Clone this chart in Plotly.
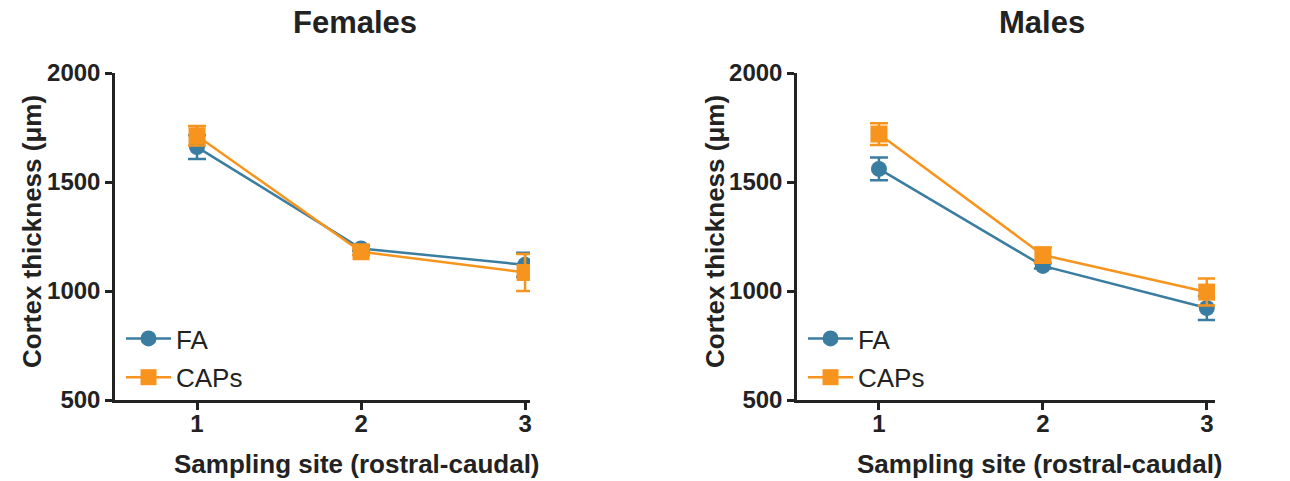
import plotly.graph_objects as go

W, H = 1290, 481

sites = [1, 2, 3]
tick_labels = ["1", "2", "3"]

fem_fa = [1660, 1195, 1120]
fem_fa_err = [55, 12, 55]
fem_caps = [1712, 1180, 1085]
fem_caps_err = [45, 15, 85]

male_fa = [1560, 1115, 922]
male_fa_err = [52, 12, 55]
male_caps = [1720, 1165, 995]
male_caps_err = [50, 35, 62]

BLUE = "#3A7DA0"
ORANGE = "#F7941E"
INK = "#222222"
FONT = "Liberation Sans"


def px(x):
    return x / W


def py(y):
    return 1 - y / H


fig = go.Figure()

panels = [
    ("x", "y", fem_fa, fem_fa_err, fem_caps, fem_caps_err, "legend"),
    ("x2", "y2", male_fa, male_fa_err, male_caps, male_caps_err, "legend2"),
]

for xa, ya, fa, fae, caps, capse, leg in panels:
    fig.add_trace(go.Scatter(
        x=sites, y=fa, name="FA", xaxis=xa, yaxis=ya, legend=leg,
        legendgroup="fa" + xa,
        mode="lines+markers",
        line=dict(color=BLUE, width=2.5),
        marker=dict(symbol="circle", size=16, color=BLUE),
        error_y=dict(type="data", array=fae, color=BLUE, thickness=2.5, width=9),
    ))
    fig.add_trace(go.Scatter(
        x=sites, y=caps, name="CAPs", xaxis=xa, yaxis=ya, legend=leg,
        legendgroup="caps" + xa,
        mode="lines+markers",
        line=dict(color=ORANGE, width=2.5),
        marker=dict(symbol="square", size=17, color=ORANGE),
        error_y=dict(type="data", array=capse, color=ORANGE, thickness=2.5, width=9),
    ))

ax_common = dict(
    showline=True, linecolor=INK, linewidth=2.5,
    ticks="outside", ticklen=7, tickwidth=2.5, tickcolor=INK,
    showgrid=False, zeroline=False, automargin=False,
    tickfont=dict(family=FONT, size=24, color=INK, weight="bold"),
)

ydom = [py(400), py(73)]

legend_common = dict(
    xanchor="left", yanchor="top",
    font=dict(family=FONT, size=26, color=INK),
    bgcolor="rgba(0,0,0,0)", tracegroupgap=2, itemwidth=45,
)

fig.update_layout(
    width=W, height=H,
    margin=dict(l=0, r=0, t=0, b=0, pad=0),
    paper_bgcolor="white", plot_bgcolor="white",
    xaxis=dict(domain=[px(115), px(530)], range=[0.5, 3.03], anchor="y",
               tickvals=sites, ticktext=tick_labels, ticklabelstandoff=-7, **ax_common),
    yaxis=dict(domain=ydom, range=[500, 2000], anchor="x",
               tickvals=[500, 1000, 1500, 2000], **ax_common),
    xaxis2=dict(domain=[px(797), px(1215)], range=[0.5, 3.05], anchor="y2",
                tickvals=sites, ticktext=tick_labels, ticklabelstandoff=-7, **ax_common),
    yaxis2=dict(domain=ydom, range=[500, 2000], anchor="x2",
                tickvals=[500, 1000, 1500, 2000], **ax_common),
    legend=dict(x=px(121), y=py(315), **legend_common),
    legend2=dict(x=px(803), y=py(315), **legend_common),
    showlegend=True,
)

annos = [
    dict(text="Females", x=px(355), y=py(22), size=31, angle=0),
    dict(text="Males", x=px(1042), y=py(22), size=31, angle=0),
    dict(text="Sampling site (rostral-caudal)", x=px(357), y=py(464), size=26, angle=0),
    dict(text="Sampling site (rostral-caudal)", x=px(1040), y=py(464), size=26, angle=0),
    dict(text="Cortex thickness (μm)", x=px(32), y=py(232), size=26, angle=-90),
    dict(text="Cortex thickness (μm)", x=px(715), y=py(232), size=26, angle=-90),
]
for a in annos:
    fig.add_annotation(
        text=a["text"], x=a["x"], y=a["y"], xref="paper", yref="paper",
        xanchor="center", yanchor="middle", showarrow=False, textangle=a["angle"],
        font=dict(family=FONT, size=a["size"], color=INK, weight="bold"),
    )

fig.write_html("out.html")
